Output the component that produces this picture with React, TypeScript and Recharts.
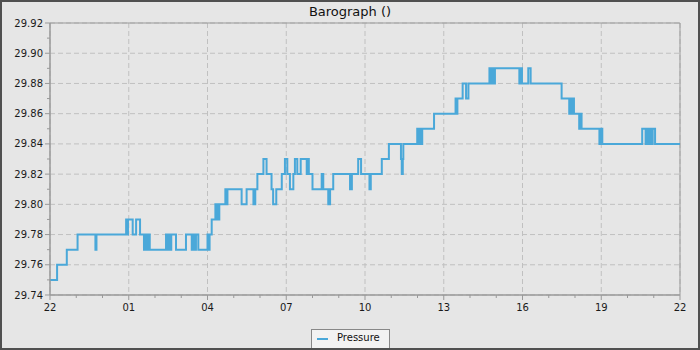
import { CartesianGrid, Line, LineChart, ReferenceArea, XAxis, YAxis } from "recharts";

// hours since 22:00 where the reading changes, and the new reading
const hours = [
  0, 0.27, 0.64, 1.05, 1.73, 1.77, 2.9, 2.93, 2.97, 3.15, 3.28, 3.43, 3.58, 3.63, 3.7, 3.74, 3.8,
  4.42, 4.47, 4.52, 4.58, 4.62, 4.8, 5.18, 5.4, 5.46, 5.52, 5.56, 5.65, 6.0, 6.04, 6.08, 6.16,
  6.3, 6.33, 6.37, 6.4, 6.45, 6.68, 6.72, 6.76, 7.3, 7.49, 7.75, 7.82, 7.9, 8.13, 8.25, 8.44,
  8.5, 8.62, 8.83, 8.95, 9.04, 9.14, 9.27, 9.33, 9.42, 9.55, 9.78, 9.82, 9.86, 10.0, 10.35,
  10.41, 10.6, 10.67, 10.79, 11.43, 11.5, 11.74, 11.85, 12.17, 12.22, 12.64, 12.91, 13.37,
  13.4, 13.44, 13.46, 13.99, 14.05, 14.1, 14.14, 14.18, 14.63, 15.45, 15.48, 15.52, 15.72,
  15.85, 15.94, 16.74, 16.8, 16.85, 16.9, 16.95, 17.88, 17.93, 17.98, 18.22, 18.31, 19.49,
  19.78, 19.82, 19.87, 19.91, 19.96, 20.16, 20.2, 20.25, 20.93, 20.98, 21.04, 22.56, 22.69,
  22.73, 22.8, 22.84, 22.9, 22.96, 23.05, 24
];

const pressure = [
  29.75, 29.76, 29.77, 29.78, 29.77, 29.78, 29.79, 29.78, 29.79, 29.78, 29.79, 29.78, 29.77, 29.78, 29.77, 29.78, 29.77,
  29.78, 29.77, 29.78, 29.77, 29.78, 29.77, 29.78, 29.77, 29.78, 29.77, 29.78, 29.77, 29.78, 29.77, 29.78, 29.79,
  29.8, 29.79, 29.8, 29.79, 29.8, 29.81, 29.8, 29.81, 29.8, 29.81, 29.8, 29.81, 29.82, 29.83, 29.82, 29.81,
  29.8, 29.81, 29.82, 29.83, 29.82, 29.81, 29.82, 29.83, 29.82, 29.83, 29.82, 29.83, 29.82, 29.81, 29.82,
  29.81, 29.8, 29.81, 29.82, 29.81, 29.82, 29.83, 29.82, 29.81, 29.82, 29.83, 29.84, 29.83,
  29.82, 29.83, 29.84, 29.85, 29.84, 29.85, 29.84, 29.85, 29.86, 29.87, 29.86, 29.87, 29.88,
  29.87, 29.88, 29.89, 29.88, 29.89, 29.88, 29.89, 29.88, 29.89, 29.88, 29.89, 29.88, 29.87,
  29.86, 29.87, 29.86, 29.87, 29.86, 29.85, 29.86, 29.85, 29.84, 29.85, 29.84, 29.85, 29.84,
  29.85, 29.84, 29.85, 29.84, 29.85, 29.84, 29.84
];

const xTicks = [0, 1, 2, 3, 4, 5, 6, 7, 8, 9, 10, 11, 12, 13, 14, 15, 16, 17, 18, 19, 20, 21, 22, 23, 24];
const xMajor = [0, 3, 6, 9, 12, 15, 18, 21, 24];
const yTicks = [
  29.74, 29.75, 29.76, 29.77, 29.78, 29.79, 29.8, 29.81, 29.82, 29.83,
  29.84, 29.85, 29.86, 29.87, 29.88, 29.89, 29.9, 29.91, 29.92
];
const yMajor = [29.74, 29.76, 29.78, 29.8, 29.82, 29.84, 29.86, 29.88, 29.9, 29.92];

const data = hours.map((t, i) => ({ t, p: pressure[i] }));

const AXIS = "#999999";
const LINE = "#4aa8d9";

function hourLabel(h: number) {
  return String((22 + h) % 24).padStart(2, "0");
}

function XTick({ x, y, payload }: any) {
  const major = xMajor.includes(payload.value);
  return (
    <g>
      <line x1={x} x2={x} y1={y} y2={y + (major ? 5 : 3)} stroke={AXIS} />
      {major && (
        <text x={x} y={y + 16} textAnchor="middle" fontSize={10} fill="#1a1a1a">
          {hourLabel(payload.value)}
        </text>
      )}
    </g>
  );
}

function YTick({ x, y, payload }: any) {
  const major = yMajor.some((v) => Math.abs(v - payload.value) < 1e-6);
  return (
    <g>
      <line x1={x - (major ? 5 : 3)} x2={x} y1={y} y2={y} stroke={AXIS} />
      {major && (
        <text x={x - 7} y={y + 3.5} textAnchor="end" fontSize={10} fill="#1a1a1a">
          {payload.value.toFixed(2)}
        </text>
      )}
    </g>
  );
}

export default function App() {
  return (
    <div
      style={{
        position: "absolute",
        left: 0,
        top: 0,
        width: 700,
        height: 350,
        boxSizing: "border-box",
        border: "2px solid #505050",
        background: "#e6e6e6",
        fontFamily: "'DejaVu Sans', sans-serif",
        overflow: "hidden"
      }}
    >
      <div
        style={{
          position: "absolute",
          left: 0,
          top: 2,
          width: 696,
          textAlign: "center",
          fontSize: 13,
          color: "#111"
        }}
      >
        Barograph ()
      </div>
      <div style={{ position: "absolute", left: -2, top: -2 }}>
        <LineChart width={700} height={350} data={data} margin={{ top: 23, right: 20, bottom: 30, left: 0 }}>
          <CartesianGrid
            stroke="#c0c0c0"
            strokeDasharray="5 3"
            horizontalValues={yMajor}
            verticalValues={xMajor}
          />
          <XAxis
            dataKey="t"
            type="number"
            domain={[0, 24]}
            ticks={xTicks}
            interval={0}
            tick={<XTick />}
            tickLine={false}
            tickSize={0}
            tickMargin={0}
            axisLine={{ stroke: AXIS }}
            height={25}
          />
          <YAxis
            type="number"
            domain={[29.74, 29.92]}
            ticks={yTicks}
            interval={0}
            allowDataOverflow
            tick={<YTick />}
            tickLine={false}
            tickSize={0}
            tickMargin={0}
            axisLine={{ stroke: AXIS }}
            width={50}
          />
          <ReferenceArea x1={0} x2={24} y1={29.74} y2={29.92} fill="none" stroke={AXIS} />
          <Line
            type="stepAfter"
            dataKey="p"
            stroke={LINE}
            strokeWidth={2}
            dot={false}
            isAnimationActive={false}
          />
        </LineChart>
      </div>
      <div
        style={{
          position: "absolute",
          left: 309,
          top: 327,
          width: 77,
          height: 18,
          border: "1px solid #888",
          background: "#f2f2f2",
          fontSize: 10,
          color: "#111"
        }}
      >
        <span
          style={{
            position: "absolute",
            left: 5,
            top: 8,
            width: 11,
            height: 2,
            background: LINE
          }}
        />
        <span style={{ position: "absolute", left: 25, top: 2 }}>Pressure</span>
      </div>
    </div>
  );
}
